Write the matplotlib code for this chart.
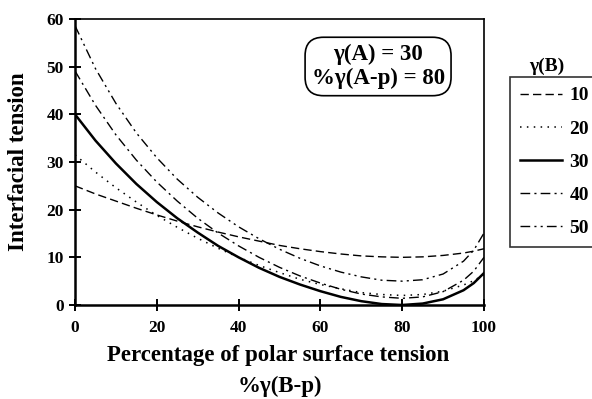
import matplotlib
matplotlib.use("Agg")
import matplotlib.pyplot as plt

# -------------------------------------------------
# Data
# -------------------------------------------------

polar_pct = [0, 5, 10, 15, 20, 25, 30, 35, 40, 45, 50,
             55, 60, 65, 70, 75, 80, 85, 90, 95, 97.5, 100]

tension_10 = [25.0, 23.3, 21.8, 20.3, 18.9, 17.6, 16.4, 15.3, 14.3, 13.4, 12.5,
              11.8, 11.2, 10.7, 10.3, 10.1, 10.0, 10.1, 10.4, 10.9, 11.3, 11.8]
tension_20 = [31.5, 27.9, 24.6, 21.6, 18.8, 16.3, 14.0, 11.9, 10.0, 8.3, 6.8,
              5.4, 4.3, 3.4, 2.6, 2.2, 2.0, 2.2, 2.9, 4.2, 5.1, 6.4]
tension_30 = [40.0, 34.5, 29.7, 25.4, 21.6, 18.2, 15.2, 12.4, 10.0, 7.8, 5.9,
              4.3, 2.9, 1.7, 0.8, 0.2, 0.0, 0.3, 1.2, 3.1, 4.6, 6.7]
tension_40 = [49.1, 41.9, 35.7, 30.4, 25.8, 21.8, 18.2, 15.1, 12.4, 10.0, 7.9,
              6.1, 4.6, 3.3, 2.3, 1.7, 1.4, 1.7, 2.8, 5.2, 7.1, 10.0]
tension_50 = [58.6, 49.6, 42.3, 36.1, 30.9, 26.4, 22.6, 19.3, 16.4, 13.9, 11.7,
              9.8, 8.2, 6.9, 5.9, 5.2, 5.0, 5.3, 6.5, 9.2, 11.5, 15.1]

series_labels = ["10", "20", "30", "40", "50"]
x_ticks = [0, 20, 40, 60, 80, 100]
y_ticks = [0, 10, 20, 30, 40, 50, 60]

plt.rcParams["font.family"] = ["Liberation Serif", "DejaVu Serif"]
plt.rcParams["font.weight"] = "bold"

# -------------------------------------------------
# Figure
# -------------------------------------------------

fig = plt.figure(figsize=(5.92, 3.99), dpi=100)
ax = fig.add_axes([75 / 592, 1 - 305 / 399, 409 / 592, 286 / 399])

styles = [
    dict(linestyle=(0, (6, 3)), linewidth=1.0),
    dict(linestyle=(0, (1, 3.5)), linewidth=1.1),
    dict(linestyle="-", linewidth=1.8),
    dict(linestyle=(0, (7, 3, 1.5, 3)), linewidth=1.0),
    dict(linestyle=(0, (7, 3, 1.5, 3, 1.5, 3)), linewidth=1.0),
]

all_series = [tension_10, tension_20, tension_30, tension_40, tension_50]

handles = []
for values, label, st in zip(all_series, series_labels, styles):
    line, = ax.plot(polar_pct, values, color="black", label=label, **st)
    handles.append(line)

ax.set_xlim(0, 100)
ax.set_ylim(0, 60)
ax.set_xticks(x_ticks)
ax.set_yticks(y_ticks)

for side in ["top", "right", "bottom", "left"]:
    ax.spines[side].set_linewidth(1.2)
ax.spines["left"].set_linewidth(1.8)
ax.spines["bottom"].set_linewidth(1.8)

ax.tick_params(direction="inout", length=8, width=1.4, labelsize=12.5)
ax.tick_params(axis="x", pad=7)
ax.tick_params(axis="y", pad=4)

# axis titles
fig.text(19 / 592, 1 - 162 / 399, "Interfacial tension", rotation=90,
         ha="center", va="center", fontsize=16.5)
fig.text(278 / 592, 1 - 356 / 399, "Percentage of polar surface tension",
         ha="center", va="center", fontsize=16.5)
fig.text(280 / 592, 1 - 386 / 399, "%\u03b3(B-p)",
         ha="center", va="center", fontsize=16.5)

# annotation box
ax.text(0.741, 0.834, "\u03b3(A) = 30\n%\u03b3(A-p) = 80",
        transform=ax.transAxes, ha="center", va="center",
        fontsize=16.5, linespacing=1.2,
        bbox=dict(boxstyle="round,pad=0.28,rounding_size=0.8",
                  facecolor="white", edgecolor="black", linewidth=1.2))

# legend, title sits above the frame
leg = fig.legend(handles=handles, loc="upper left",
                 bbox_to_anchor=(510 / 592, 1 - 77 / 399),
                 borderaxespad=0, frameon=True, fancybox=False,
                 handlelength=2.15, handletextpad=0.4, labelspacing=0.8,
                 borderpad=0.5,
                 prop=dict(weight="bold", size=14))
leg.get_frame().set_edgecolor("black")
leg.get_frame().set_linewidth(1.2)

fig.text(547 / 592, 1 - 66 / 399, "\u03b3(B)", ha="center", va="center",
         fontsize=14)

fig.savefig("out.png", dpi=100)
plt.close(fig)
